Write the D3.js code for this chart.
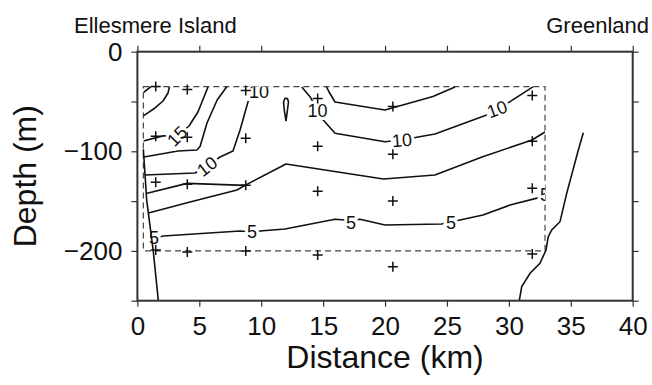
<!DOCTYPE html>
<html>
<head>
<meta charset="utf-8">
<script src="https://cdn.jsdelivr.net/npm/d3@7"></script>
<style>
    html, body { margin: 0; padding: 0; background: #fff; }
    svg { display: block; font-family: "Liberation Sans", Arial, sans-serif; }
</style>
</head>
<body>
<div id="chart"></div>
<script>
// Axis ticks
const distanceTicks = [0, 5, 10, 15, 20, 25, 30, 35, 40];
const depthTicks = [0, -50, -100, -150, -200, -250];
const depthLabelTicks = [0, -100, -200];

// Sampled section (dashed box), km and m
const sampledKm = [0.48, 32.92];
const sampledDepth = [-35, -200];

// CTD stations: distance (km) and sample depths (m)
const stationKm = [1.48, 4.03, 8.75, 14.56, 20.63, 31.89];
const stationDepths = [
    [-35, -85, -131, -199],
    [-38, -86, -133, -201],
    [-39, -87, -134, -200],
    [-47, -95, -140, -204],
    [-55, -103, -150, -216],
    [-44, -90, -137, -203]
];

// Sea floor on both sides of the strait, [km, m]
const ellesmereFloor = [[0.48, -98], [0.75, -149], [1.28, -200], [1.69, -250]];
const greenlandFloor = [[36.01, -81.3], [35.61, -98.7], [34.67, -142.2], [34.13, -170.7], [33.46, -179],
    [33.18, -185.7], [33.0, -199.1], [32.51, -212.4], [31.71, -222.5], [31.04, -235.9], [30.84, -250]];

// Contour lines, [km, m]
const contourCorner = [[0.48, -41], [1.1, -35]];
const contourTopLeft = [[0.48, -64.5], [1.42, -56.5], [2.07, -49.5], [2.47, -41.5], [2.59, -35]];
const contour15 = [[0.48, -89.7], [2.07, -84.5], [3.2, -84.6], [4.17, -74.6], [4.89, -60.5], [5.7, -35.4]];
const contourMidWest = [[0.52, -105.7], [3.28, -99.7], [4.81, -98.7], [5.06, -95.2], [5.62, -71.6], [6.44, -48.5], [7.23, -35]];
const contour10West = [[0.6, -123.8], [4.65, -121.8], [5.62, -114.8], [6.67, -105.7], [7.72, -99.7],
    [8.29, -78.6], [8.93, -50.5], [9.25, -41.5], [9.58, -35]];
const contourShortWest = [[0.71, -142.3], [4.01, -132.2], [8.69, -134.2]];
const contourLong = [[0.89, -162], [4.25, -150.9], [8.04, -138.9], [8.69, -134.2], [12.0, -112.7],
    [19.87, -127.8], [24.03, -123.8], [27.83, -105.7], [31.87, -88.7], [32.92, -80.6]];
const contour10East = [[13.27, -35.4], [13.94, -45.2], [14.55, -58.8], [15.01, -68.6], [15.96, -81.9],
    [19.99, -90.4], [21.37, -88.6], [22.56, -85.9], [24.03, -82.6], [28.21, -63.6], [29.04, -57.5],
    [30.09, -50.2], [31.97, -35.1]];
const contourEastUpper = [[15.27, -35.4], [15.55, -42], [15.96, -50.5], [19.99, -58.5], [23.87, -45], [25.65, -35.4]];
const contourLens = [[12.0, -69.6], [11.86, -58.5], [11.8, -50.5], [11.92, -46.8], [12.12, -47],
    [12.2, -50.5], [12.12, -58.5], [12.0, -69.6]];
const contour5 = [[1.18, -189], [2.07, -185], [8.29, -180], [9.25, -181], [10.14, -179.7], [11.92, -178],
    [15.96, -168.3], [17.25, -169.5], [17.98, -168.3], [19.99, -174], [24.57, -173], [25.33, -171],
    [26.05, -169], [27.91, -164], [30.09, -154], [32.27, -147], [32.92, -143]];

// Contour labels
const labelText = ["15", "10", "10", "10", "10", "10", "5", "5", "5", "5", "5"];
const labelKm = [3.2, 5.62, 9.82, 14.55, 21.37, 29.04, 1.34, 9.25, 17.25, 25.33, 32.92];
const labelDepth = [-84.6, -115, -39.5, -59, -88.6, -57.5, -187, -181, -171, -171, -143];

const W = 652, H = 385;
const plot = { left: 137.4, right: 632.7, top: 51.7, bottom: 300.7 };
const labelAngles = [-45, -38, 0, 0, -5, -20, 0, 0, 0, 0, 0];

const x = d3.scaleLinear().domain([0, 40]).range([plot.left, plot.right]);
const y = d3.scaleLinear().domain([0, -250]).range([plot.top, plot.bottom]);

const svg = d3.select("#chart").append("svg")
    .attr("width", W)
    .attr("height", H);

const line = d3.line().x(d => x(d[0])).y(d => y(d[1]));

// clip for contours + labels = sampled box
svg.append("clipPath").attr("id", "box-clip")
    .append("rect")
    .attr("x", x(sampledKm[0]))
    .attr("y", y(sampledDepth[0]))
    .attr("width", x(sampledKm[1]) - x(sampledKm[0]))
    .attr("height", y(sampledDepth[1]) - y(sampledDepth[0]));

// dashed sampled box
svg.append("rect")
    .attr("x", x(sampledKm[0]))
    .attr("y", y(sampledDepth[0]))
    .attr("width", x(sampledKm[1]) - x(sampledKm[0]))
    .attr("height", y(sampledDepth[1]) - y(sampledDepth[0]))
    .attr("fill", "none")
    .attr("stroke", "#444")
    .attr("stroke-width", 1.2)
    .attr("stroke-dasharray", "6,4");

const contours = [contourCorner, contourTopLeft, contour15, contourMidWest, contour10West,
    contourShortWest, contourLong, contour10East, contourEastUpper, contourLens, contour5];

const cg = svg.append("g").attr("clip-path", "url(#box-clip)");

cg.selectAll("path.contour")
    .data(contours)
    .join("path")
    .attr("class", "contour")
    .attr("d", line)
    .attr("fill", "none")
    .attr("stroke", "#111")
    .attr("stroke-width", 1.6)
    .attr("stroke-linejoin", "round");

// labels knock a white gap out of the line
cg.selectAll("text.clabel")
    .data(labelText)
    .join("text")
    .attr("class", "clabel")
    .attr("transform", (d, i) => `translate(${x(labelKm[i])},${y(labelDepth[i])}) rotate(${labelAngles[i]})`)
    .attr("text-anchor", "middle")
    .attr("dy", "0.36em")
    .style("font-size", "18px")
    .style("paint-order", "stroke")
    .attr("stroke", "#fff")
    .attr("stroke-width", 6)
    .attr("fill", "#111")
    .text(d => d);

// sea floor
svg.selectAll("path.floor")
    .data([ellesmereFloor, greenlandFloor])
    .join("path")
    .attr("class", "floor")
    .attr("d", line)
    .attr("fill", "none")
    .attr("stroke", "#111")
    .attr("stroke-width", 1.6);

// station "+" marks
const marks = stationKm.flatMap((km, i) => stationDepths[i].map(dep => [km, dep]));
svg.selectAll("path.mark")
    .data(marks)
    .join("path")
    .attr("class", "mark")
    .attr("d", d => {
        const px = x(d[0]), py = y(d[1]), s = 5;
        return `M${px - s},${py}H${px + s}M${px},${py - s}V${py + s}`;
    })
    .attr("stroke", "#111")
    .attr("stroke-width", 1.5);

// axes (GMT style: ticks on all four sides, labels left/bottom)
const fmtDepth = d => d === 0 ? "0" : "\u2212" + Math.abs(d);

const axB = svg.append("g").attr("transform", `translate(0,${plot.bottom})`)
    .call(d3.axisBottom(x).tickValues(distanceTicks).tickSize(6).tickSizeOuter(0).tickPadding(10));
const axT = svg.append("g").attr("transform", `translate(0,${plot.top})`)
    .call(d3.axisTop(x).tickValues(distanceTicks).tickSize(6).tickSizeOuter(0).tickFormat(""));
const axL = svg.append("g").attr("transform", `translate(${plot.left},0)`)
    .call(d3.axisLeft(y).tickValues(depthTicks).tickSize(6).tickSizeOuter(0).tickPadding(9)
        .tickFormat(d => depthLabelTicks.includes(d) ? fmtDepth(d) : ""));
const axR = svg.append("g").attr("transform", `translate(${plot.right},0)`)
    .call(d3.axisRight(y).tickValues(depthTicks).tickSize(6).tickSizeOuter(0).tickFormat(""));

[axB, axT, axL, axR].forEach(g => {
    g.select(".domain").remove();
    g.selectAll(".tick line").attr("stroke", "#333").attr("stroke-width", 1.2);
    g.selectAll(".tick text")
        .attr("fill", "#111")
        .style("font-family", "'Liberation Sans', Arial, sans-serif")
        .style("font-size", "26px");
});

// frame
svg.append("rect")
    .attr("x", plot.left)
    .attr("y", plot.top)
    .attr("width", plot.right - plot.left)
    .attr("height", plot.bottom - plot.top)
    .attr("fill", "none")
    .attr("stroke", "#333")
    .attr("stroke-width", 2);

// axis titles
svg.append("text")
    .attr("x", (plot.left + plot.right) / 2)
    .attr("y", 368)
    .attr("text-anchor", "middle")
    .style("font-size", "32px")
    .attr("fill", "#111")
    .text("Distance (km)");

svg.append("text")
    .attr("transform", `translate(36,${(plot.top + plot.bottom) / 2}) rotate(-90)`)
    .attr("text-anchor", "middle")
    .style("font-size", "32px")
    .attr("fill", "#111")
    .text("Depth (m)");

// place names above the frame
svg.append("text")
    .attr("x", 74)
    .attr("y", 33)
    .style("font-size", "22px")
    .attr("fill", "#111")
    .text("Ellesmere Island");

svg.append("text")
    .attr("x", 649)
    .attr("y", 33)
    .attr("text-anchor", "end")
    .style("font-size", "22px")
    .attr("fill", "#111")
    .text("Greenland");
</script>
</body>
</html>
